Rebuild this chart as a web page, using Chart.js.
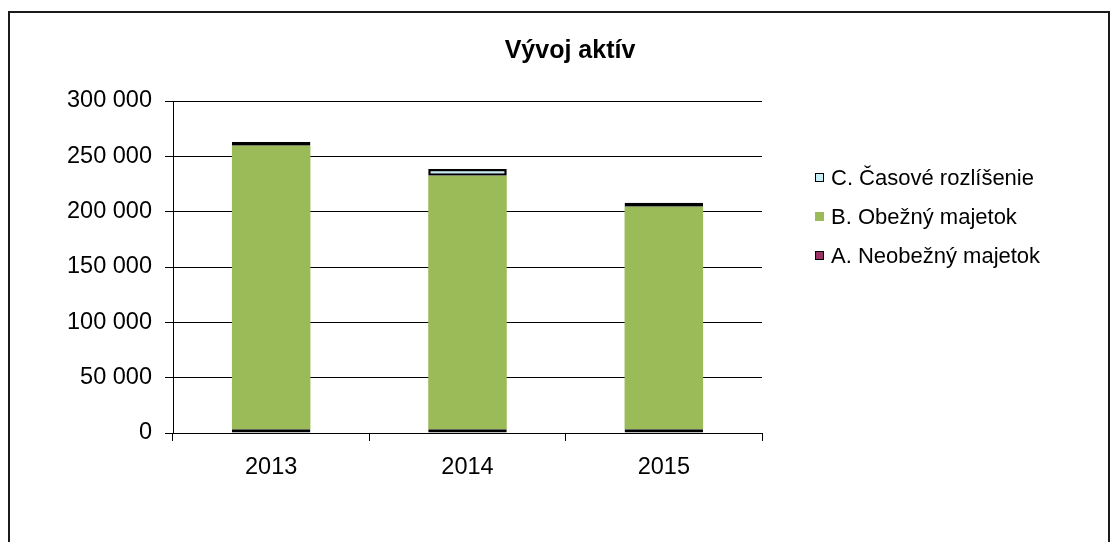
<!DOCTYPE html>
<html>
<head>
<meta charset="utf-8">
<script src="https://cdn.jsdelivr.net/npm/chart.js@4"></script>
<style>
  body { margin: 0; background: #fff; overflow: hidden; }
  #frame { position: absolute; left: 8px; top: 11px; width: 1098px; height: 600px; border: 2px solid #1a1a1a; }
  #wrap { position: absolute; left: 0; top: 0; width: 1115px; height: 542px; }
  #legend { position: absolute; left: 815px; top: 158px; font-family: "Liberation Sans", Arial, sans-serif; font-size: 22px; color: #000; }
  #legend .row { height: 39px; line-height: 26px; display: flex; align-items: center; white-space: nowrap; }
  #legend .box { width: 7px; height: 7px; margin-right: 7px; }
</style>
</head>
<body>
<div id="frame"></div>
<div id="wrap"><canvas id="barChart" width="1115" height="542"></canvas></div>
<div id="legend"></div>
<script>
// roky
var years = ["2013", "2014", "2015"];
// A. Neobežný majetok
var neobezny = [3500, 3500, 3500];
// B. Obežný majetok
var obezny = [256000, 229000, 201000];
// C. Časové rozlíšenie
var casove = [3500, 6000, 3500];
// os Y
var yTicks = [0, 50000, 100000, 150000, 200000, 250000, 300000];

var font = "'Liberation Sans', Arial, sans-serif";

var ctx = document.getElementById("barChart");
var myChart = new Chart(ctx, {
  type: 'bar',
  data: {
    labels: years,
    datasets: [
      {
        label: "A. Neobežný majetok",
        data: neobezny,
        backgroundColor: "#993366",
        borderColor: "#000",
        borderWidth: 3,
        borderSkipped: false
      },
      {
        label: "B. Obežný majetok",
        data: obezny,
        backgroundColor: "#9BBB59",
        borderWidth: 0
      },
      {
        label: "C. Časové rozlíšenie",
        data: casove,
        backgroundColor: "#C6EFF7",
        borderColor: "#000",
        borderWidth: 2.5,
        borderSkipped: false
      }
    ]
  },
  options: {
    responsive: false,
    animation: false,
    devicePixelRatio: 1,
    categoryPercentage: 1,
    barPercentage: 0.4,
    layout: { padding: { left: 25, right: 0, top: 0, bottom: 0 } },
    plugins: {
      legend: { display: false },
      tooltip: { enabled: false },
      title: {
        display: true,
        text: "Vývoj aktív",
        color: "#000",
        font: { family: font, size: 25, weight: 'bold' },
        padding: { top: 36, bottom: 35 }
      }
    },
    scales: {
      x: {
        stacked: true,
        grid: { drawOnChartArea: false, color: "#000", tickLength: 8, tickColor: "#000" },
        border: { color: "#000", width: 1 },
        ticks: { color: "#000", font: { family: font, size: 23.5 }, padding: 12 },
        afterFit: function (s) { s.height = 109; }
      },
      y: {
        stacked: true,
        min: 0,
        max: 300000,
        afterBuildTicks: function (s) { s.ticks = yTicks.map(function (v) { return { value: v }; }); },
        grid: { color: "#000", tickLength: 8, tickColor: "#000" },
        border: { color: "#000", width: 1 },
        ticks: {
          color: "#000",
          font: { family: font, size: 23.5 },
          padding: 13,
          callback: function (v) { return v.toString().replace(/\B(?=(\d{3})+(?!\d))/g, " "); }
        },
        afterFit: function (s) { s.width = 148; }
      },
      // prázdne miesto vpravo pre legendu
      yR: {
        type: 'linear',
        position: 'right',
        grid: { display: false },
        border: { display: false },
        ticks: { display: false },
        afterFit: function (s) { s.width = 353; }
      }
    }
  }
});

// legenda v opačnom poradí
var legend = document.getElementById("legend");
myChart.data.datasets.slice().reverse().forEach(function (ds) {
  var row = document.createElement("div");
  row.className = "row";
  var box = document.createElement("span");
  box.className = "box";
  box.style.background = ds.backgroundColor;
  box.style.border = ds.borderWidth ? "1.5px solid #000" : "1.5px solid " + ds.backgroundColor;
  var txt = document.createElement("span");
  txt.textContent = ds.label;
  row.appendChild(box);
  row.appendChild(txt);
  legend.appendChild(row);
});
</script>
</body>
</html>
